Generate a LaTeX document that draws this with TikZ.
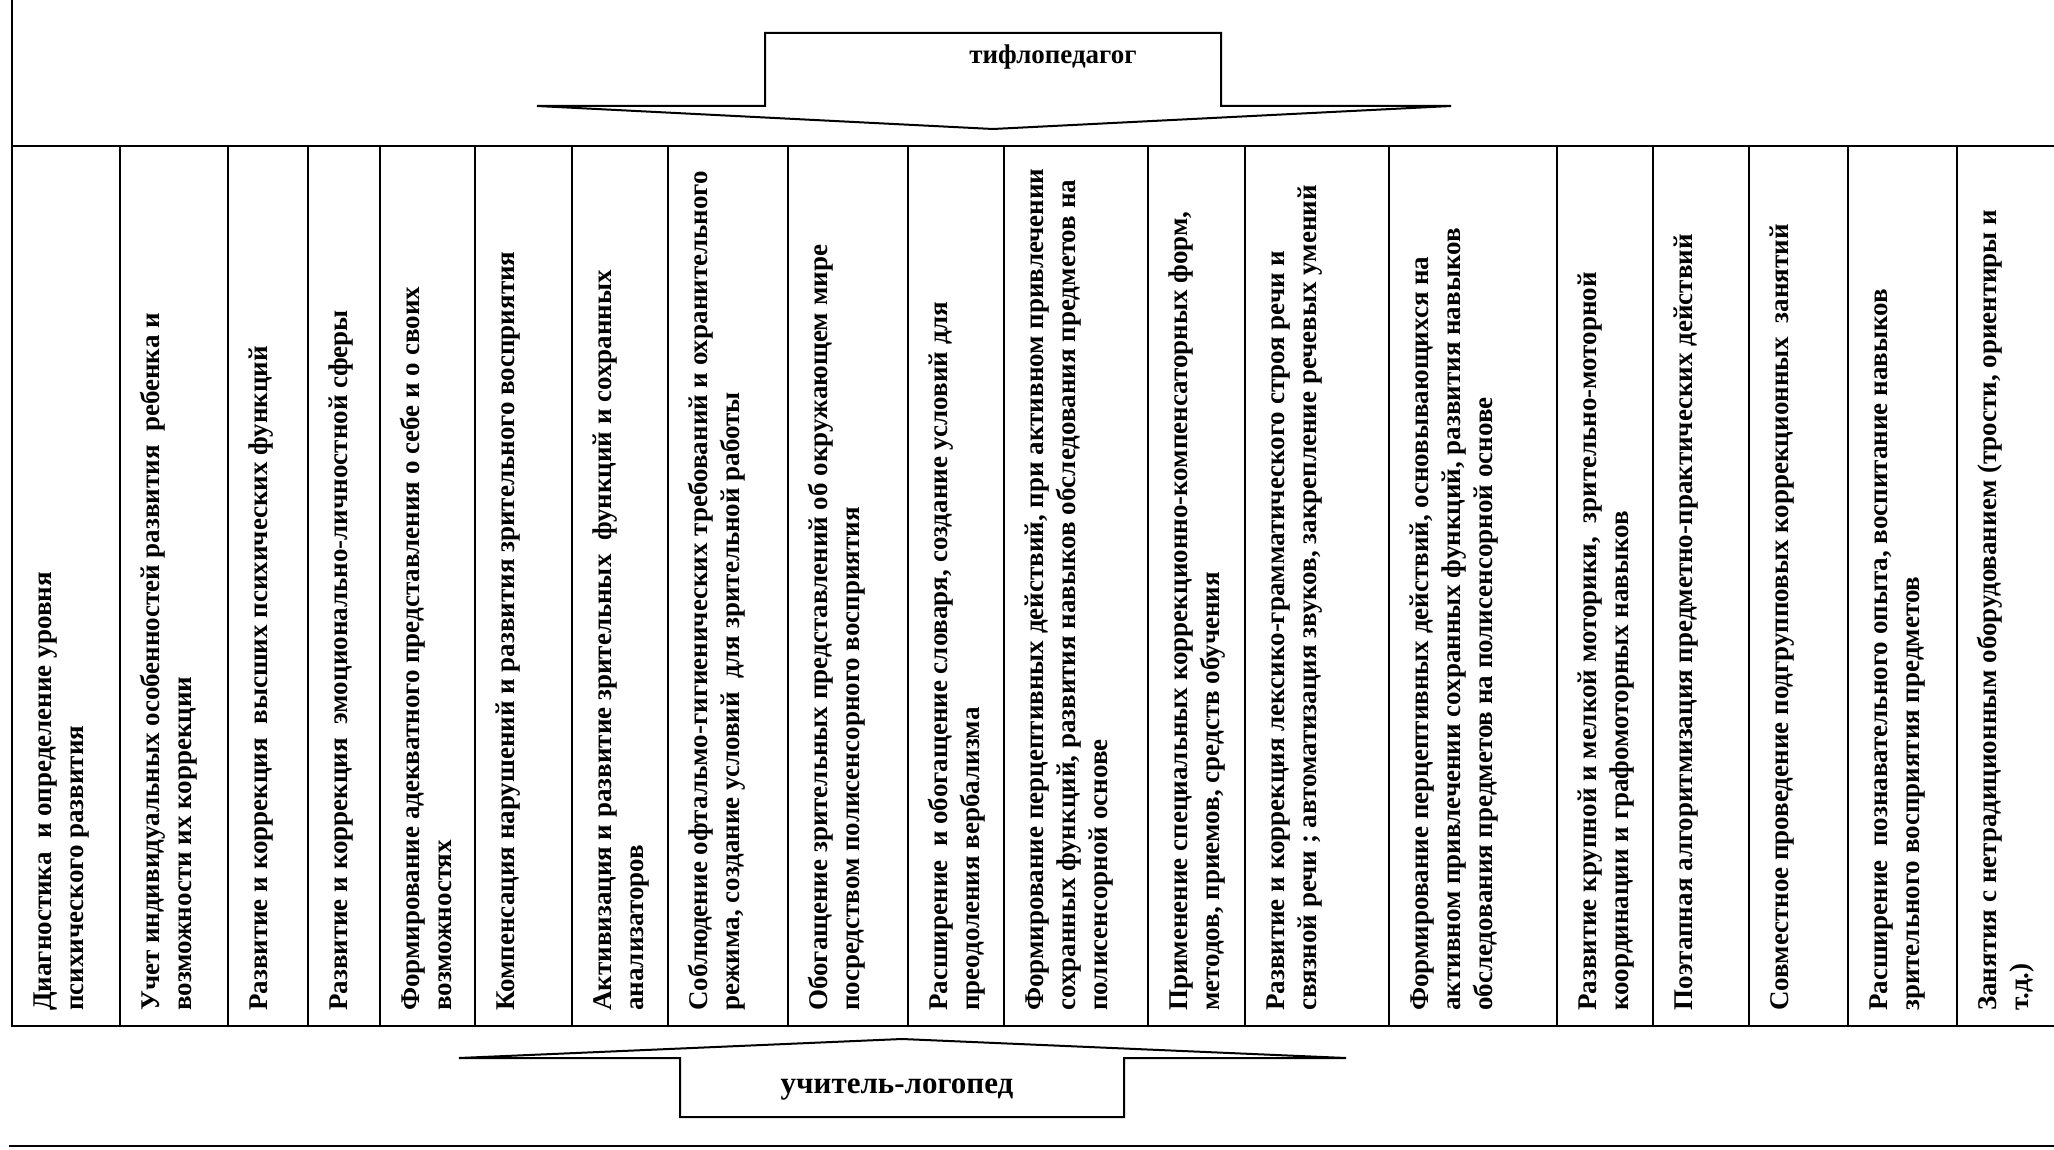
\documentclass[tikz,border=0pt]{standalone}
\usepackage{fontspec}
\setmainfont{Liberation Serif}
\begin{document}
\begin{tikzpicture}[x=1pt,y=-1pt,
  tbl/.style={line width=2pt,line cap=rect},
  ct/.style={rotate=90,anchor=base west,inner sep=0pt,font=\fontsize{27}{32}\selectfont\bfseries},
  arr/.style={draw,line width=2pt,line join=miter,fill=white},
  lbl/.style={inner sep=0pt,font=\fontsize{27}{32}\selectfont\bfseries}]
\useasboundingbox (0,0) rectangle (2054,1150);
% table frame
\draw[tbl] (12,0) -- (12,1025.5);
\draw[tbl] (12,145.7) -- (2054,145.7);
\draw[tbl] (12,1025.5) -- (2054,1025.5);
\foreach \x in {120,228,308,380,475,572,668,788,908,1004,1148,1245,1389,1557,1653,1749,1848,1957}
  \draw[tbl] (\x,145.7) -- (\x,1025.5);
\draw[tbl] (10,1146) -- (2054,1146);
% top arrow
\draw[arr] (765,33) -- (1221,33) -- (1221,106) -- (1451,106) -- (993,129) -- (537,106) -- (765,106) -- cycle;
\node[lbl] (tp) at (1053,57) {тифлопедагог};
% bottom arrow
\draw[arr] (680,1117) -- (680,1058) -- (459,1058) -- (902,1039) -- (1346,1058) -- (1124,1058) -- (1124,1117) -- cycle;
\node[lbl,font=\fontsize{31}{36}\selectfont\bfseries] (ul) at (897,1090) {учитель-логопед};
% column texts
\node[ct] (c1a) at (51,1011) {Диагностика\ \ и определение уровня};
\node[ct] (c1b) at (83,1011) {психического развития};
\node[ct] (c2a) at (159,1011) {Учет индивидуальных особенностей развития\ \ ребенка и};
\node[ct] (c2b) at (191,1011) {возможности их коррекции};
\node[ct] (c3a) at (267,1011) {Развитие и коррекция\ \ высших психических функций};
\node[ct] (c4a) at (347,1011) {Развитие и коррекция\ \ эмоционально-личностной сферы};
\node[ct] (c5a) at (419,1011) {Формирование адекватного представления о себе и о своих};
\node[ct] (c5b) at (451,1011) {возможностях};
\node[ct] (c6a) at (514,1011) {Компенсация нарушений и развития зрительного восприятия};
\node[ct] (c7a) at (611,1011) {Активизация и развитие зрительных\ \ функций и сохранных};
\node[ct] (c7b) at (643,1011) {анализаторов};
\node[ct] (c8a) at (707,1011) {Соблюдение офтальмо-гигиенических требований и охранительного};
\node[ct] (c8b) at (739,1011) {режима, создание условий\ \ для зрительной работы};
\node[ct] (c9a) at (827,1011) {Обогащение зрительных представлений об окружающем мире};
\node[ct] (c9b) at (859,1011) {посредством полисенсорного восприятия};
\node[ct] (c10a) at (947,1011) {Расширение\ \ и обогащение словаря, создание условий для};
\node[ct] (c10b) at (979,1011) {преодоления вербализма};
\node[ct] (c11a) at (1043,1011) {Формирование перцептивных действий, при активном привлечении};
\node[ct] (c11b) at (1075,1011) {сохранных функций, развития навыков обследования предметов на};
\node[ct] (c11c) at (1107,1011) {полисенсорной основе};
\node[ct] (c12a) at (1187,1011) {Применение специальных коррекционно-компенсаторных форм,};
\node[ct] (c12b) at (1219,1011) {методов, приемов, средств обучения};
\node[ct] (c13a) at (1284,1011) {Развитие и коррекция лексико-грамматического строя речи и};
\node[ct] (c13b) at (1316,1011) {связной речи ; автоматизация звуков, закрепление речевых умений};
\node[ct] (c14a) at (1428,1011) {Формирование перцептивных действий, основывающихся на};
\node[ct] (c14b) at (1460,1011) {активном привлечении сохранных функций, развития навыков};
\node[ct] (c14c) at (1492,1011) {обследования предметов на полисенсорной основе};
\node[ct] (c15a) at (1596,1011) {Развитие крупной и мелкой моторики,\ \ зрительно-моторной};
\node[ct] (c15b) at (1628,1011) {координации и графомоторных навыков};
\node[ct] (c16a) at (1692,1011) {Поэтапная алгоритмизация предметно-практических действий};
\node[ct] (c17a) at (1788,1011) {Совместное проведение подгрупповых коррекционных\ \ занятий};
\node[ct] (c18a) at (1887,1011) {Расширение\ \ познавательного опыта, воспитание навыков};
\node[ct] (c18b) at (1919,1011) {зрительного восприятия предметов};
\node[ct] (c19a) at (1996,1011) {Занятия с нетрадиционным оборудованием (трости, ориентиры и};
\node[ct] (c19b) at (2028,1011) {т.д.)};
\end{tikzpicture}
\end{document}
